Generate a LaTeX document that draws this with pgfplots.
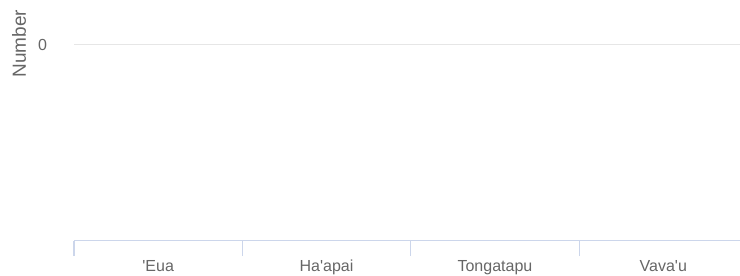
\documentclass[border=0pt]{standalone}
\usepackage{pgfplots}
\pgfplotsset{compat=1.18}
\usepackage{fontspec}
\setmainfont{Liberation Sans}
\definecolor{lbl}{HTML}{666666}
\definecolor{grd}{HTML}{E6E6E6}
\definecolor{axl}{HTML}{CCD6EB}
\begin{document}
\begin{tikzpicture}[x=1pt,y=1pt]
\begin{axis}[
  at={(74pt,35pt)}, anchor=south west,
  scale only axis, width=673.5pt, height=196pt,
  xmin=0, xmax=4, ymin=-1, ymax=0,
  axis x line*=bottom, axis y line*=left,
  x axis line style={draw=axl, line width=1pt, -},
  y axis line style={draw=none},
  xtick={0.5,1.5,2.5,3.5},
  xticklabels={{\textquotesingle Eua},{Ha\textquotesingle apai},{Tongatapu},{Vava\textquotesingle u}},
  minor xtick={0,1,2,3,4},
  major tick length=0pt, minor tick length=15pt, tick align=outside,
  minor tick style={draw=axl, line width=1pt},
  major tick style={draw=none},
  ytick={0}, ymajorgrids, major grid style={draw=grd, line width=1pt},
  tick label style={font=\fontsize{16}{19}\selectfont, text=lbl},
  /pgf/number format/assume math mode=true,
  xticklabel style={anchor=base, inner sep=0pt, yshift=-30.5pt},
  yticklabel style={anchor=east, inner sep=0pt, xshift=-26.7pt},
  ylabel={Number},
  ylabel style={at={(axis description cs:0,1)}, anchor=center, yshift=55pt, xshift=1.5pt, font=\fontsize{19}{23}\selectfont, text=lbl, inner sep=0pt},
]
\end{axis}
\pgfresetboundingbox
\useasboundingbox (0,0) rectangle (740,276);
\end{tikzpicture}
\end{document}
